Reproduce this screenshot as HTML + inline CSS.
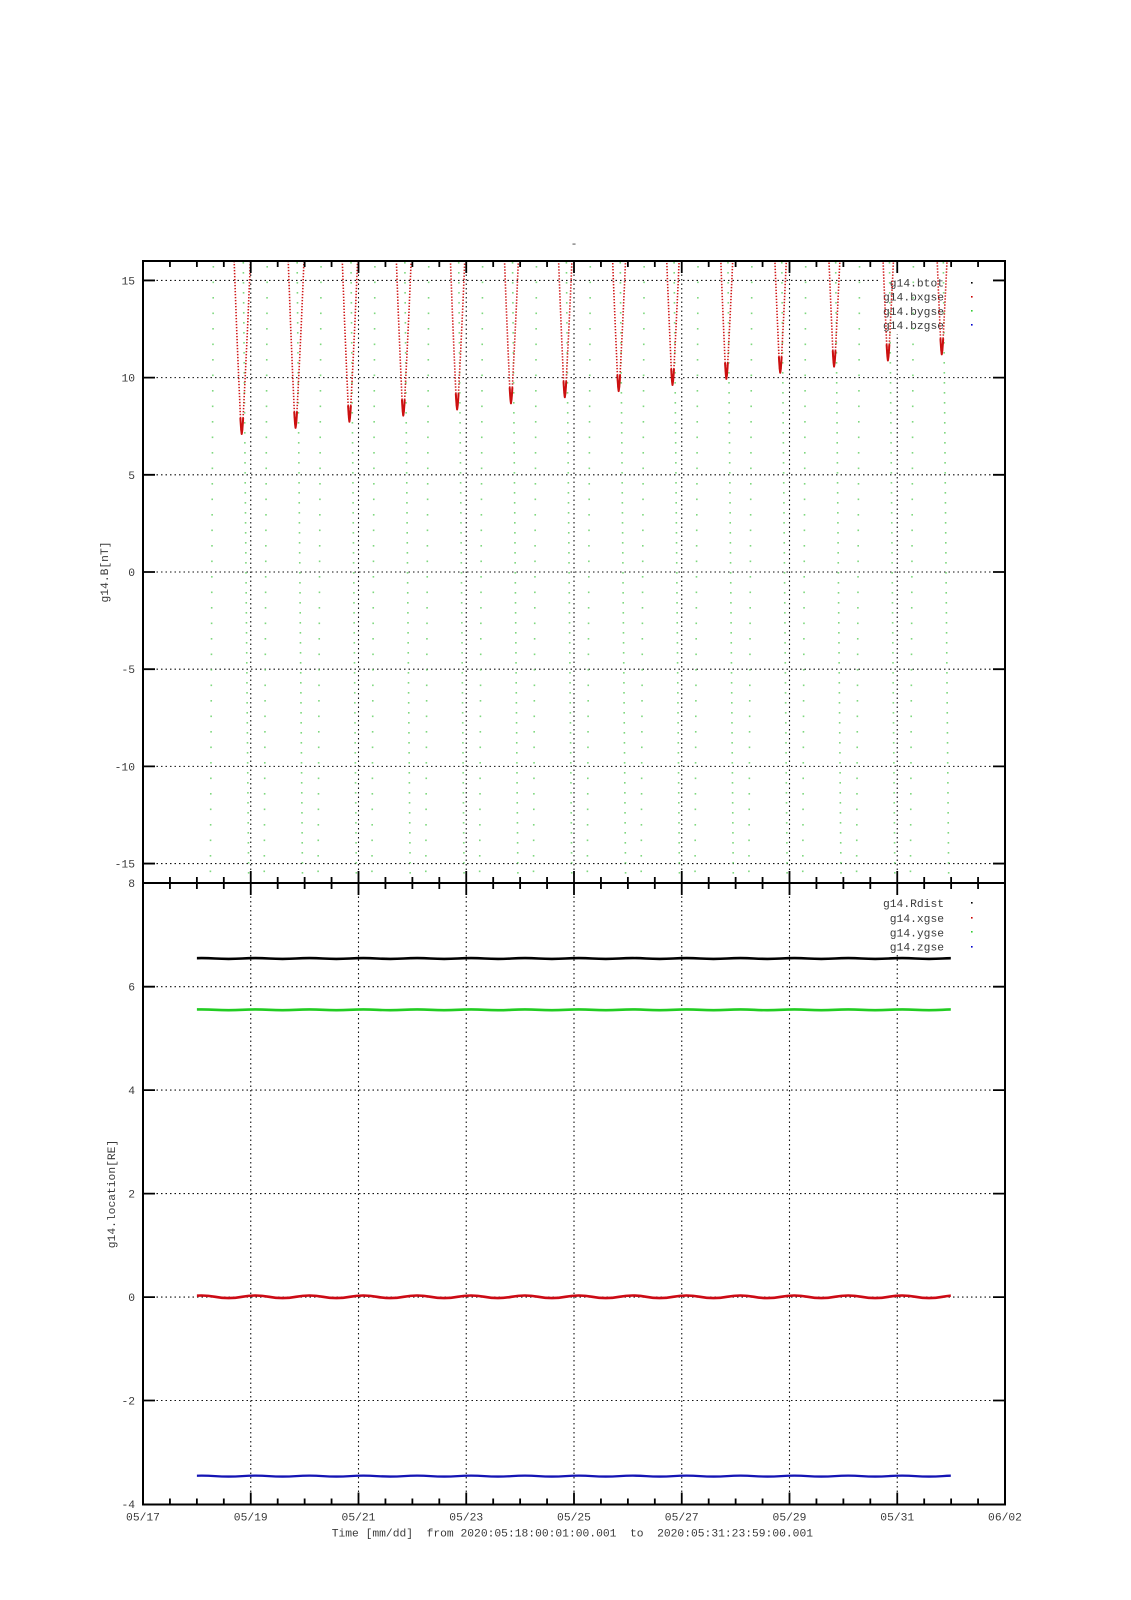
<!DOCTYPE html>
<html>
<head>
<meta charset="utf-8">
<style>
  html, body { margin:0; padding:0; background:#ffffff; }
  body { width:1131px; height:1600px; overflow:hidden; }
  svg { display:block; }
  text { font-family: "Liberation Mono", "DejaVu Sans Mono", monospace; font-size:11.3px; fill:#3a3a3a; }
</style>
</head>
<body>
<svg width="1131" height="1600" viewBox="0 0 1131 1600" xmlns="http://www.w3.org/2000/svg">
  <defs>
    <clipPath id="cTop"><rect x="144" y="262" width="860" height="620"/></clipPath>
    <clipPath id="cBot"><rect x="196.9" y="884" width="753.9" height="619"/></clipPath>
    <g id="dip">
      <path d="M-10 -245 L-9 -215 -8 -186 -7 -158 -6 -131 -5 -104 -4 -80 -3 -56 -2 -34 -1.5 -22 -1 -12 -0.5 -4 0 0 0.6 -4 1.15 -12 1.7 -22 2.3 -34 3.45 -56 4.6 -80 5.75 -104 6.9 -131 8.05 -158 9.2 -186 10.35 -215 11.5 -245" fill="none" stroke="#d01818" stroke-width="1.6" stroke-dasharray="1.4 1.6"/>
      <path d="M-1.3 -16 L-1 -11 -0.5 -4 0 0 0.6 -4 1.15 -11 1.45 -16" fill="none" stroke="#cc1010" stroke-width="2" stroke-linejoin="round"/>
    </g>
  </defs>

  <rect x="0" y="0" width="1131" height="1600" fill="#ffffff"/>

  <!-- title -->
  <text x="574" y="247" text-anchor="middle">-</text>

  <!-- grid -->
  <g stroke="#111" stroke-width="1.1" stroke-dasharray="1.5 3" fill="none">
    <path d="M143 280.44H1005 M143 377.63H1005 M143 474.81H1005 M143 572H1005 M143 669.19H1005 M143 766.38H1005 M143 863.56H1005"/>
    <path d="M250.75 261V883 M358.5 261V883 M466.25 261V883 M574 261V883 M681.75 261V883 M789.5 261V883 M897.25 261V883"/>
    <path d="M143 986.7H1005 M143 1090.1H1005 M143 1193.6H1005 M143 1297.1H1005 M143 1400.5H1005"/>
    <path d="M250.75 883V1504.5 M358.5 883V1504.5 M466.25 883V1504.5 M574 883V1504.5 M681.75 883V1504.5 M789.5 883V1504.5 M897.25 883V1504.5"/>
  </g>

  <!-- legend boxes -->
  <rect x="881" y="272" width="118" height="62" fill="#ffffff"/>
  <rect x="881" y="893" width="118" height="62" fill="#ffffff"/>

  <!-- legends -->
  <g text-anchor="end">
    <text x="944" y="286.7">g14.btot</text>
    <text x="944" y="300.7">g14.bxgse</text>
    <text x="944" y="315">g14.bygse</text>
    <text x="944" y="329">g14.bzgse</text>
    <text x="944" y="907">g14.Rdist</text>
    <text x="944" y="922">g14.xgse</text>
    <text x="944" y="936.7">g14.ygse</text>
    <text x="944" y="950.7">g14.zgse</text>
  </g>
  <rect x="971" y="282" width="1.6" height="1.6" fill="#000"/>
  <rect x="971" y="296" width="1.6" height="1.6" fill="#c00"/>
  <rect x="971" y="310" width="1.6" height="1.6" fill="#3c3"/>
  <rect x="971" y="324" width="1.6" height="1.6" fill="#00c"/>
  <rect x="971" y="902" width="1.6" height="1.6" fill="#000"/>
  <rect x="971" y="917" width="1.6" height="1.6" fill="#c00"/>
  <rect x="971" y="931" width="1.6" height="1.6" fill="#3c3"/>
  <rect x="971" y="946" width="1.6" height="1.6" fill="#00c"/>

  <!-- top plot data -->
  <g clip-path="url(#cTop)">
    <g stroke="#55cc55" stroke-width="1.6" stroke-dasharray="1.6 8.4" opacity="0.75">
      <line x1="243.3" y1="262" x2="248.7" y2="882"/>
      <line x1="297.15" y1="262" x2="302.55" y2="882"/>
      <line x1="351.0" y1="262" x2="356.4" y2="882"/>
      <line x1="404.85" y1="262" x2="410.25" y2="882"/>
      <line x1="458.7" y1="262" x2="464.1" y2="882"/>
      <line x1="512.55" y1="262" x2="517.95" y2="882"/>
      <line x1="566.4" y1="262" x2="571.8" y2="882"/>
      <line x1="620.25" y1="262" x2="625.65" y2="882"/>
      <line x1="674.1" y1="262" x2="679.5" y2="882"/>
      <line x1="727.95" y1="262" x2="733.35" y2="882"/>
      <line x1="781.8" y1="262" x2="787.2" y2="882"/>
      <line x1="835.65" y1="262" x2="841.05" y2="882"/>
      <line x1="889.5" y1="262" x2="894.9" y2="882"/>
      <line x1="943.35" y1="262" x2="948.75" y2="882"/>
    </g>
    <g stroke="#55cc55" stroke-width="1.6" stroke-dasharray="1.6 13.9" opacity="0.75">
      <line x1="213.35" y1="266" x2="210.35" y2="882"/>
      <line x1="267.2" y1="266" x2="264.2" y2="882"/>
      <line x1="321.05" y1="266" x2="318.05" y2="882"/>
      <line x1="374.9" y1="266" x2="371.9" y2="882"/>
      <line x1="428.75" y1="266" x2="425.75" y2="882"/>
      <line x1="482.6" y1="266" x2="479.6" y2="882"/>
      <line x1="536.45" y1="266" x2="533.45" y2="882"/>
      <line x1="590.3" y1="266" x2="587.3" y2="882"/>
      <line x1="644.15" y1="266" x2="641.15" y2="882"/>
      <line x1="698.0" y1="266" x2="695.0" y2="882"/>
      <line x1="751.85" y1="266" x2="748.85" y2="882"/>
      <line x1="805.7" y1="266" x2="802.7" y2="882"/>
      <line x1="859.55" y1="266" x2="856.55" y2="882"/>
      <line x1="913.4" y1="266" x2="910.4" y2="882"/>
    </g>
    <use href="#dip" x="241.7" y="434.0"/>
    <use href="#dip" x="295.55" y="427.9"/>
    <use href="#dip" x="349.4" y="421.7"/>
    <use href="#dip" x="403.25" y="415.6"/>
    <use href="#dip" x="457.1" y="409.5"/>
    <use href="#dip" x="510.95" y="403.4"/>
    <use href="#dip" x="564.8" y="397.3"/>
    <use href="#dip" x="618.65" y="391.1"/>
    <use href="#dip" x="672.5" y="385.0"/>
    <use href="#dip" x="726.35" y="378.9"/>
    <use href="#dip" x="780.2" y="372.8"/>
    <use href="#dip" x="834.05" y="366.6"/>
    <use href="#dip" x="887.9" y="360.5"/>
    <use href="#dip" x="941.75" y="354.4"/>
  </g>

  <!-- bottom plot data -->
  <g clip-path="url(#cBot)" fill="none" stroke-linecap="butt">
    <path stroke="#000000" stroke-width="2.6" d="M188.2 958.5 Q201.67 957.7 215.14 958.5 t26.94 0 t26.94 0 t26.94 0 t26.94 0 t26.94 0 t26.94 0 t26.94 0 t26.94 0 t26.94 0 t26.94 0 t26.94 0 t26.94 0 t26.94 0 t26.94 0 t26.94 0 t26.94 0 t26.94 0 t26.94 0 t26.94 0 t26.94 0 t26.94 0 t26.94 0 t26.94 0 t26.94 0 t26.94 0 t26.94 0 t26.94 0 t26.94 0"/>
    <path stroke="#22cc22" stroke-width="2.6" d="M188.2 1009.8 Q201.67 1009.0 215.14 1009.8 t26.94 0 t26.94 0 t26.94 0 t26.94 0 t26.94 0 t26.94 0 t26.94 0 t26.94 0 t26.94 0 t26.94 0 t26.94 0 t26.94 0 t26.94 0 t26.94 0 t26.94 0 t26.94 0 t26.94 0 t26.94 0 t26.94 0 t26.94 0 t26.94 0 t26.94 0 t26.94 0 t26.94 0 t26.94 0 t26.94 0 t26.94 0 t26.94 0"/>
    <path stroke="#cc0a14" stroke-width="2.6" d="M188.2 1296.8 Q201.67 1294.2 215.14 1296.8 t26.94 0 t26.94 0 t26.94 0 t26.94 0 t26.94 0 t26.94 0 t26.94 0 t26.94 0 t26.94 0 t26.94 0 t26.94 0 t26.94 0 t26.94 0 t26.94 0 t26.94 0 t26.94 0 t26.94 0 t26.94 0 t26.94 0 t26.94 0 t26.94 0 t26.94 0 t26.94 0 t26.94 0 t26.94 0 t26.94 0 t26.94 0 t26.94 0"/>
    <path stroke="#1414b4" stroke-width="2.3" d="M188.2 1476.1 Q201.67 1475.2 215.14 1476.1 t26.94 0 t26.94 0 t26.94 0 t26.94 0 t26.94 0 t26.94 0 t26.94 0 t26.94 0 t26.94 0 t26.94 0 t26.94 0 t26.94 0 t26.94 0 t26.94 0 t26.94 0 t26.94 0 t26.94 0 t26.94 0 t26.94 0 t26.94 0 t26.94 0 t26.94 0 t26.94 0 t26.94 0 t26.94 0 t26.94 0 t26.94 0 t26.94 0"/>
  </g>

  <!-- frames -->
  <g fill="none" stroke="#000" stroke-width="2">
    <rect x="143" y="261" width="862" height="622"/>
    <rect x="143" y="883" width="862" height="621.5"/>
  </g>

  <!-- ticks -->
  <g stroke="#000" stroke-width="1.8" fill="none">
    <path d="M169.94 261v6 M196.88 261v6 M223.81 261v6 M277.69 261v6 M304.63 261v6 M331.56 261v6 M385.44 261v6 M412.38 261v6 M439.31 261v6 M493.19 261v6 M520.13 261v6 M547.06 261v6 M600.94 261v6 M627.88 261v6 M654.81 261v6 M708.69 261v6 M735.63 261v6 M762.56 261v6 M816.44 261v6 M843.38 261v6 M870.31 261v6 M924.19 261v6 M951.13 261v6 M978.06 261v6"/>
    <path d="M169.94 877v12 M196.88 877v12 M223.81 877v12 M277.69 877v12 M304.63 877v12 M331.56 877v12 M385.44 877v12 M412.38 877v12 M439.31 877v12 M493.19 877v12 M520.13 877v12 M547.06 877v12 M600.94 877v12 M627.88 877v12 M654.81 877v12 M708.69 877v12 M735.63 877v12 M762.56 877v12 M816.44 877v12 M843.38 877v12 M870.31 877v12 M924.19 877v12 M951.13 877v12 M978.06 877v12"/>
    <path d="M169.94 1504.5v-6 M196.88 1504.5v-6 M223.81 1504.5v-6 M277.69 1504.5v-6 M304.63 1504.5v-6 M331.56 1504.5v-6 M385.44 1504.5v-6 M412.38 1504.5v-6 M439.31 1504.5v-6 M493.19 1504.5v-6 M520.13 1504.5v-6 M547.06 1504.5v-6 M600.94 1504.5v-6 M627.88 1504.5v-6 M654.81 1504.5v-6 M708.69 1504.5v-6 M735.63 1504.5v-6 M762.56 1504.5v-6 M816.44 1504.5v-6 M843.38 1504.5v-6 M870.31 1504.5v-6 M924.19 1504.5v-6 M951.13 1504.5v-6 M978.06 1504.5v-6"/>
    <path d="M250.75 261v12 M358.5 261v12 M466.25 261v12 M574 261v12 M681.75 261v12 M789.5 261v12 M897.25 261v12"/>
    <path d="M250.75 871v24 M358.5 871v24 M466.25 871v24 M574 871v24 M681.75 871v24 M789.5 871v24 M897.25 871v24"/>
    <path d="M250.75 1504.5v-12 M358.5 1504.5v-12 M466.25 1504.5v-12 M574 1504.5v-12 M681.75 1504.5v-12 M789.5 1504.5v-12 M897.25 1504.5v-12"/>
    <path d="M143 280.44h12 M143 377.63h12 M143 474.81h12 M143 572h12 M143 669.19h12 M143 766.38h12 M143 863.56h12"/>
    <path d="M1005 280.44h-12 M1005 377.63h-12 M1005 474.81h-12 M1005 572h-12 M1005 669.19h-12 M1005 766.38h-12 M1005 863.56h-12"/>
    <path d="M143 986.7h12 M143 1090.1h12 M143 1193.6h12 M143 1297.1h12 M143 1400.5h12"/>
    <path d="M1005 986.7h-12 M1005 1090.1h-12 M1005 1193.6h-12 M1005 1297.1h-12 M1005 1400.5h-12"/>
  </g>

  <!-- y tick labels -->
  <g text-anchor="end">
    <text x="135" y="284.4">15</text>
    <text x="135" y="381.6">10</text>
    <text x="135" y="478.8">5</text>
    <text x="135" y="576">0</text>
    <text x="135" y="673.2">-5</text>
    <text x="135" y="770.4">-10</text>
    <text x="135" y="867.6">-15</text>
    <text x="135" y="887">8</text>
    <text x="135" y="990.7">6</text>
    <text x="135" y="1094.1">4</text>
    <text x="135" y="1197.6">2</text>
    <text x="135" y="1301.1">0</text>
    <text x="135" y="1404.5">-2</text>
    <text x="135" y="1508">-4</text>
  </g>

  <!-- x tick labels -->
  <g text-anchor="middle">
    <text x="143" y="1520.5">05/17</text>
    <text x="250.75" y="1520.5">05/19</text>
    <text x="358.5" y="1520.5">05/21</text>
    <text x="466.25" y="1520.5">05/23</text>
    <text x="574" y="1520.5">05/25</text>
    <text x="681.75" y="1520.5">05/27</text>
    <text x="789.5" y="1520.5">05/29</text>
    <text x="897.25" y="1520.5">05/31</text>
    <text x="1005" y="1520.5">06/02</text>
  </g>

  <!-- x label -->
  <text x="331.7" y="1536.5">Time [mm/dd]&#160; from 2020:05:18:00:01:00.001&#160; to&#160; 2020:05:31:23:59:00.001</text>

  <!-- y labels -->
  <text transform="translate(104,572) rotate(-90)" text-anchor="middle" dy="4">g14.B[nT]</text>
  <text transform="translate(111,1194) rotate(-90)" text-anchor="middle" dy="4">g14.location[RE]</text>
</svg>
</body>
</html>
